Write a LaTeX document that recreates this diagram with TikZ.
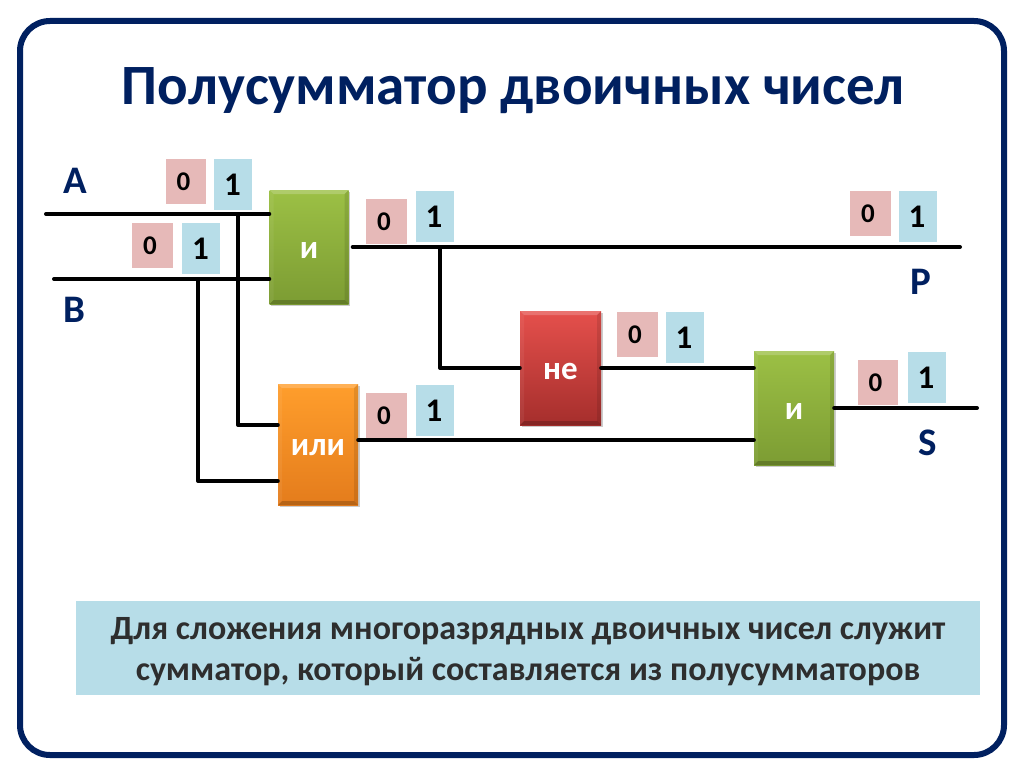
\documentclass[tikz,border=0pt]{standalone}
\usepackage{fontspec}
\setmainfont{Carlito}
\usetikzlibrary{shadows,calc}
\definecolor{navy}{HTML}{002060}
\definecolor{pinkbit}{HTML}{E6B9B8}
\definecolor{bluebit}{HTML}{B7DDE8}
\definecolor{captxt}{HTML}{2E2E2E}
\definecolor{B1C}{HTML}{9CC045}
\definecolor{B1D}{HTML}{7C9C33}
\definecolor{O1C}{HTML}{FF9E2C}
\definecolor{O1D}{HTML}{E47C1C}
\definecolor{R1C}{HTML}{E5504C}
\definecolor{R1D}{HTML}{A52E2C}
\newcommand\gatetext[1]{\raisebox{-11pt}[0pt][0pt]{#1}}
\newcommand\bitzero{\raisebox{-9.5pt}[0pt][0pt]{0}\kern5pt}
\newcommand\bitone{\raisebox{-11pt}[0pt][0pt]{1}\kern1pt}
\tikzset{
  wire/.style={line width=4pt,black,line join=round,line cap=round},
  gate/.style={rectangle,inner sep=0pt,font=\bfseries\fontsize{33}{33}\selectfont,text=white,
    drop shadow={shadow xshift=1.5pt,shadow yshift=-2pt,opacity=.2,fill=black},
    path picture={
      \fill[white,opacity=.2] (path picture bounding box.north west) -- (path picture bounding box.north east)
        -- ([shift={(-4pt,-4pt)}]path picture bounding box.north east) -- ([shift={(4pt,-4pt)}]path picture bounding box.north west) -- cycle;
      \fill[black,opacity=.1] (path picture bounding box.north east) -- (path picture bounding box.south east)
        -- ([shift={(-4pt,4pt)}]path picture bounding box.south east) -- ([shift={(-4pt,-4pt)}]path picture bounding box.north east) -- cycle;
      \fill[black,opacity=.2] (path picture bounding box.south west) -- (path picture bounding box.south east)
        -- ([shift={(-4pt,4pt)}]path picture bounding box.south east) -- ([shift={(4pt,4pt)}]path picture bounding box.south west) -- cycle;
      \fill[white,opacity=.06] (path picture bounding box.north west) -- (path picture bounding box.south west)
        -- ([shift={(4pt,4pt)}]path picture bounding box.south west) -- ([shift={(4pt,-4pt)}]path picture bounding box.north west) -- cycle;
    }},
  andgate/.style={gate,top color=B1C,bottom color=B1D,minimum height=114pt,minimum width=79pt},
  orgate/.style={gate,top color=O1C,bottom color=O1D,minimum height=121pt,minimum width=80pt},
  notgate/.style={gate,top color=R1C,bottom color=R1D,minimum height=114pt,minimum width=81pt},
  zerobit/.style={rectangle,fill=pinkbit,inner sep=0pt,minimum width=40.5pt,minimum height=45pt,text=black,
     font=\bfseries\fontsize{27}{27}\selectfont},
  onebit/.style={rectangle,fill=bluebit,inner sep=0pt,minimum width=38pt,minimum height=51pt,text=black,
     font=\bfseries\fontsize{33}{33}\selectfont},
  letter/.style={inner sep=0pt,text=navy,font=\bfseries\fontsize{39}{39}\selectfont},
}
\begin{document}
\begin{tikzpicture}[x=1pt,y=-1pt]
\useasboundingbox (0,0) rectangle (1024,768);
\fill[white] (0,0) rectangle (1024,768);
\draw[navy,line width=6pt,rounded corners=30pt] (20,21) rectangle (1004,755);
\node[inner sep=0pt,text=navy,font=\bfseries\fontsize{57}{57}\selectfont] (title) at (513,91) {Полусумматор двоичных чисел};

% gates
\node[andgate] (and1) at (309,247) {\gatetext{и}};
\node[orgate] (or1) at (318,444.5) {\gatetext{или}};
\node[notgate] (not1) at (560.5,368) {\gatetext{не}};
\node[andgate,minimum width=80pt] (and2) at (794,408) {\gatetext{и}};

% free ends and bends
\coordinate (aStart) at (46,214);
\coordinate (bStart) at (54,279);
\coordinate (pEnd) at (960,247);
\coordinate (sEnd) at (977,408);
\coordinate (aTap) at (238,214);
\coordinate (bTap) at (198,279);
\coordinate (pTap) at (440,247);
\coordinate (orIn1) at (or1.west |- 0,425);
\coordinate (orIn2) at (or1.west |- 0,481);
\coordinate (notIn) at (not1.west);
\coordinate (andIn1) at (and2.west |- not1.east);
\coordinate (andIn2) at (and2.west |- 0,440);

% wires
\draw[wire] (aStart) -- (aStart -| and1.west);
\draw[wire] (bStart) -- (bStart -| and1.west);
\draw[wire] (aTap) |- (orIn1);
\draw[wire] (bTap) |- (orIn2);
\draw[wire] ([xshift=4pt]and1.east) -- (pEnd);
\draw[wire] (pTap) |- (notIn);
\draw[wire] (not1.east) -- (andIn1);
\draw[wire] (or1.east |- andIn2) -- (andIn2);
\draw[wire] (and2.east) -- (sEnd);

% bits
\node[zerobit] (z1) at (186,181) {\bitzero};
\node[onebit] (o1) at (233,184) {\bitone};
\node[zerobit] (z2) at (152.5,245) {\bitzero};
\node[onebit] (o2) at (201,248) {\bitone};
\node[zerobit] (z3) at (386.5,221) {\bitzero};
\node[onebit] (o3) at (434.5,216) {\bitone};
\node[zerobit] (z4) at (870.5,213) {\bitzero};
\node[onebit] (o4) at (917.5,216) {\bitone};
\node[zerobit] (z5) at (637.5,334) {\bitzero};
\node[onebit] (o5) at (684.5,337) {\bitone};
\node[zerobit] (z6) at (386.5,415) {\bitzero};
\node[onebit] (o6) at (434.5,410) {\bitone};
\node[zerobit] (z7) at (878,382) {\bitzero};
\node[onebit] (o7) at (926.5,377) {\bitone};

% letters
\node[letter] (lA) at (75,181) {A};
\node[letter] (lB) at (74,310) {B};
\node[letter] (lP) at (921,282) {P};
\node[letter] (lS) at (928,443) {S};

% caption
\node[rectangle,fill=bluebit,inner sep=0pt,minimum width=904pt,minimum height=94pt] (cap) at (528,648) {};
\node[inner sep=0pt,align=center,text=captxt,font=\bfseries\fontsize{34}{41}\selectfont] (captext) at (528,652)
  {Для сложения многоразрядных двоичных чисел служит\\сумматор, который составляется из полусумматоров};
\end{tikzpicture}
\end{document}
